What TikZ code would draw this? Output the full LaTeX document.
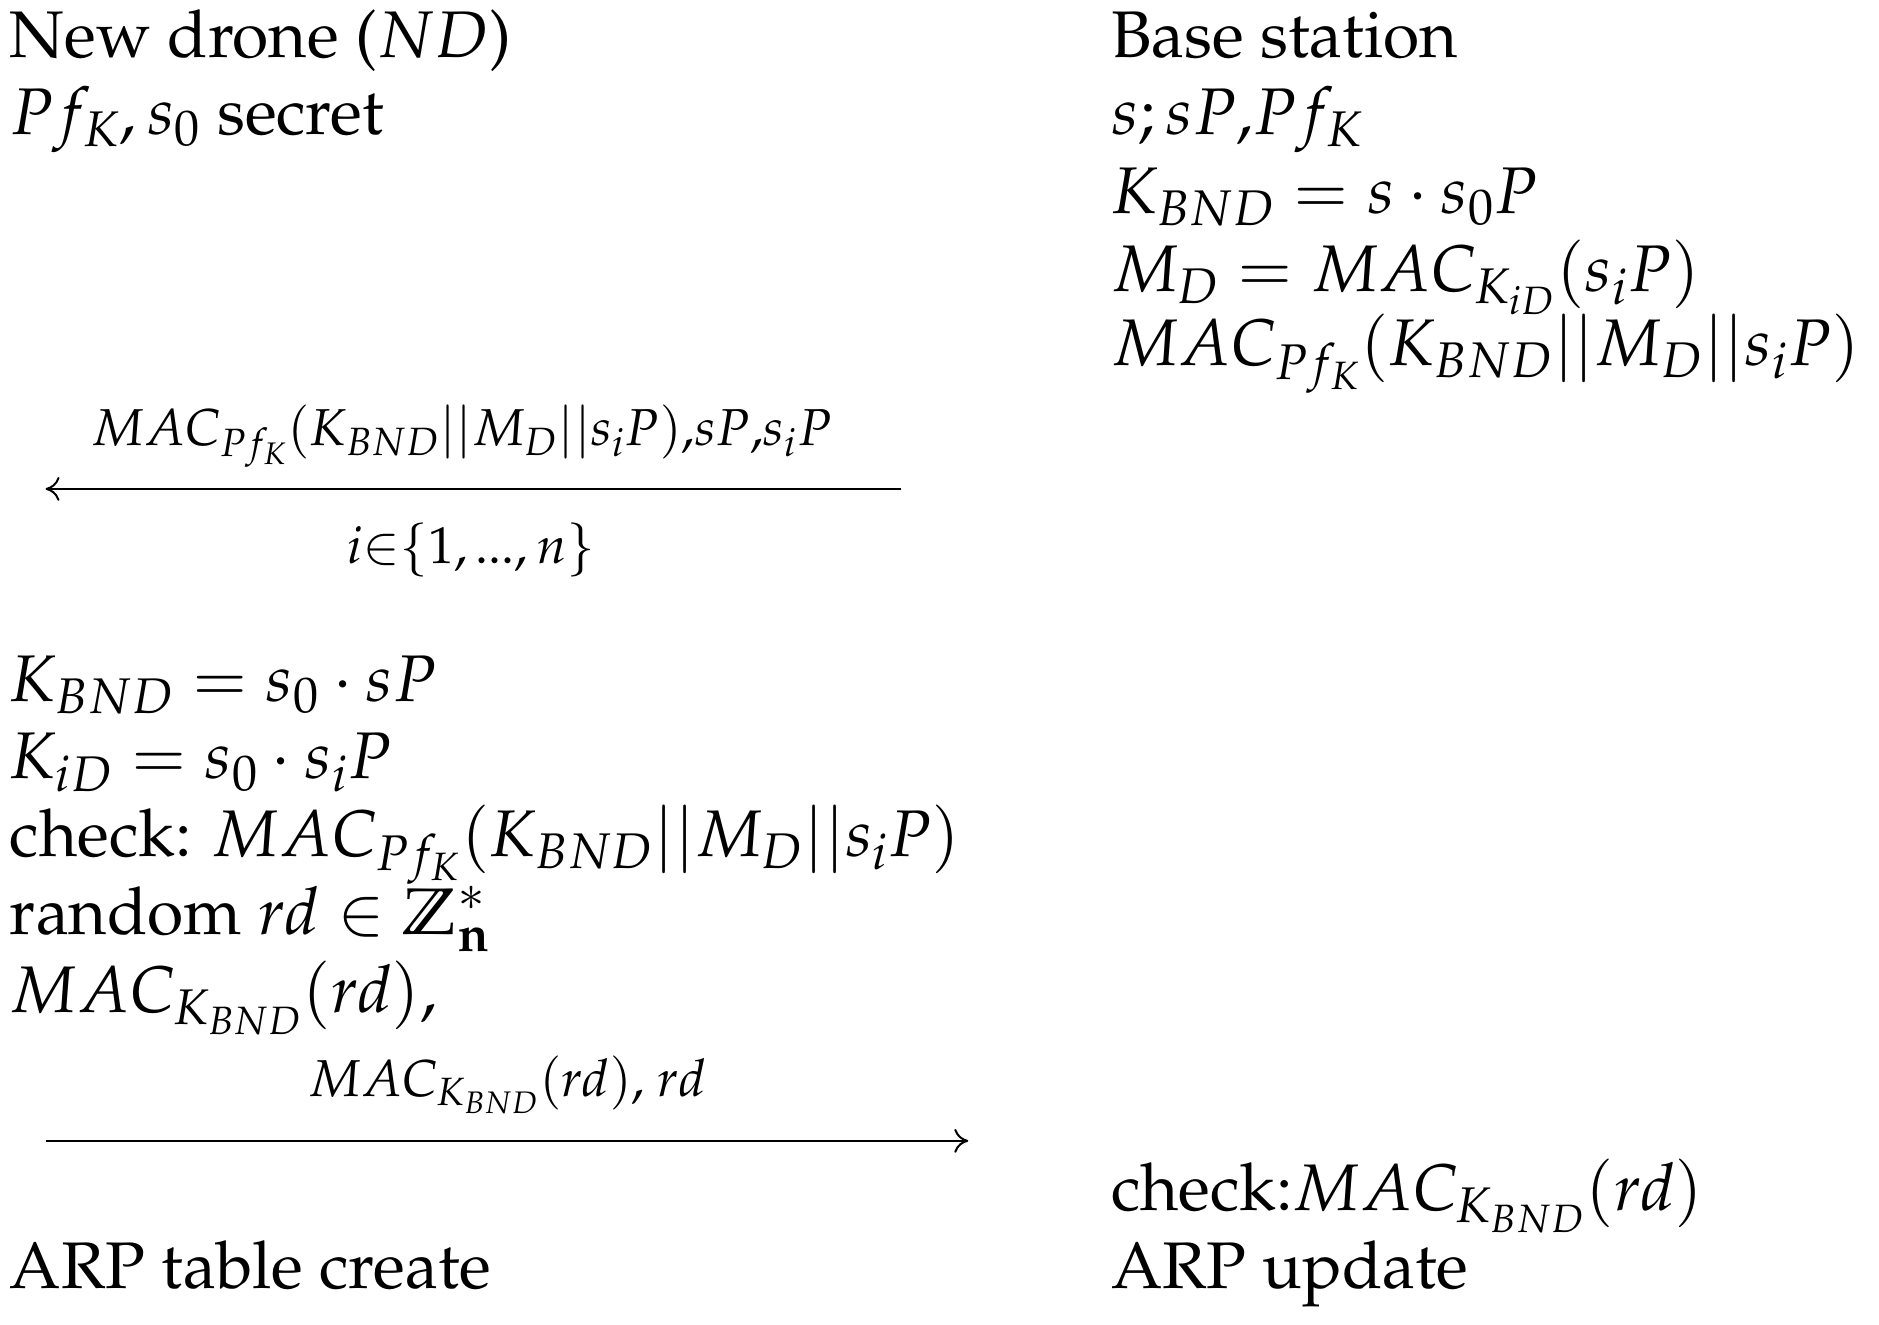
\documentclass[tikz,border=0pt]{standalone}
\usepackage[T1]{fontenc}
\usepackage{amssymb}
\usepackage{mathpazo}
\renewcommand{\rmdefault}{ppl}
\usetikzlibrary{arrows.meta}
\begin{document}
\begin{tikzpicture}[x=0.6pt,y=-0.6pt,
  t/.style={anchor=base west,inner sep=0pt,font=\fontsize{33}{38}\selectfont},
  lab/.style={anchor=base,inner sep=0pt,font=\fontsize{26}{30}\selectfont},
  arr/.style={line width=1pt,-{To[length=7pt,width=12pt]}}]
\useasboundingbox (0,0) rectangle (1568,1105);
\node[t] (n1) at (8,48) {New drone ($ND$)};
\node[t] (n2) at (8,112) {$Pf_K, s_0$ secret};
\node[t] (b1) at (927,48) {Base station};
\node[t] (b2) at (927,112) {$s;sP$,$Pf_K$};
\node[t] (b3) at (927,178) {$K_{BND}=s\cdot s_0P$};
\node[t] (b4) at (927,243) {$M_D=MAC_{K_{iD}}(s_iP)$};
\node[t] (b5) at (927,305) {$MAC_{Pf_K}(K_{BND}||M_D||s_iP)$};
\coordinate (a1s) at (752,408);
\coordinate (a1e) at (38,408);
\draw[arr] (a1s) -- (a1e);
\node[lab] (l1) at (385,372) {$MAC_{Pf_K}(K_{BND}||M_D||s_iP)$,$sP$,$s_iP$};
\node[lab] (l2) at (393,470) {$i{\in}\{1,...,n\}$};
\node[t] (c1) at (8,585) {$K_{BND}=s_0\cdot sP$};
\node[t] (c2) at (8,650) {$K_{iD}=s_0\cdot s_iP$};
\node[t] (c3) at (8,715) {check: $MAC_{Pf_K}(K_{BND}||M_D||s_iP)$};
\node[t] (c4) at (8,780) {random $rd\in\mathbb{Z}^*_{\mathbf{n}}$};
\node[t] (c5) at (8,845) {$MAC_{K_{BND}}(rd)$,};
\coordinate (a2s) at (38,952);
\coordinate (a2e) at (808,952);
\draw[arr] (a2s) -- (a2e);
\node[lab] (l3) at (423,915) {$MAC_{K_{BND}}(rd)$, $rd$};
\node[t] (d1) at (927,1010) {check:$MAC_{K_{BND}}(rd)$};
\node[t] (d2) at (927,1075) {ARP update};
\node[t] (c6) at (8,1075) {ARP table create};
\end{tikzpicture}
\end{document}
